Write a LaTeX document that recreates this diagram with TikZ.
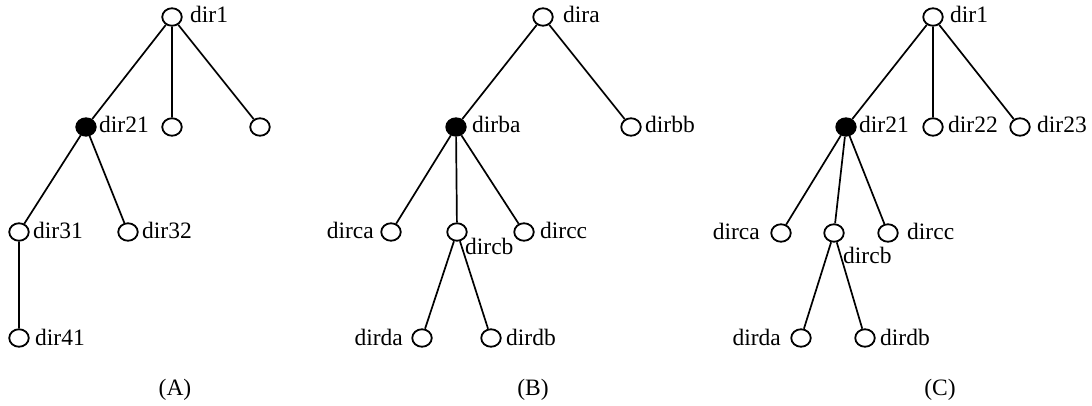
\documentclass[tikz,border=0pt]{standalone}
\usepackage{fontspec}
\setmainfont{Liberation Serif}
\usetikzlibrary{shapes.geometric}
\begin{document}
\begin{tikzpicture}[x=1pt, y=-1pt,
  dirnode/.style={draw=black, ellipse, line width=1.8pt, minimum width=19.5pt, minimum height=17.5pt, inner sep=0pt, fill=white},
  curnode/.style={dirnode, fill=black},
  link/.style={draw=black, line width=1.7pt},
  lbl/.style={inner sep=0pt, font=\fontsize{23.5}{27}\selectfont},
  lw/.style={lbl, anchor=base west},
  le/.style={lbl, anchor=base east},
  captext/.style={lbl, anchor=base}]
\useasboundingbox (0,0) rectangle (1092,406);

% ---- tree (A) ----
\node[dirnode] (a1)  at (172,17)  {};
\node[curnode] (a21) at (86,127)  {};
\node[dirnode] (a22) at (172,127) {};
\node[dirnode] (a23) at (260,127) {};
\node[dirnode] (a31) at (19,232)  {};
\node[dirnode] (a32) at (128,232) {};
\node[dirnode] (a41) at (19,338)  {};
\draw[link] (a1) -- (a21) (a1) -- (a22) (a1) -- (a23)
            (a21) -- (a31) (a21) -- (a32) (a31) -- (a41);
\node[lw] (la1)  at (190,23)  {dir1};
\node[lw] (la21) at (99,133)  {dir21};
\node[lw] (la31) at (33,239)  {dir31};
\node[lw] (la32) at (142,239) {dir32};
\node[lw] (la41) at (35,345)  {dir41};
\node[captext] (capA) at (175,395) {(A)};

% ---- tree (B) ----
\node[dirnode] (b1)  at (543,17)  {};
\node[curnode] (bba) at (456,127) {};
\node[dirnode] (bbb) at (631,127) {};
\node[dirnode] (bca) at (391,232) {};
\node[dirnode] (bcb) at (457,232) {};
\node[dirnode] (bcc) at (524,232) {};
\node[dirnode] (bda) at (422,338) {};
\node[dirnode] (bdb) at (491,338) {};
\draw[link] (b1) -- (bba) (b1) -- (bbb)
            (bba) -- (bca) (bba) -- (bcb) (bba) -- (bcc)
            (bcb) -- (bda) (bcb) -- (bdb);
\node[lw] (lb1)  at (563,23)  {dira};
\node[lw] (lbba) at (472,133) {dirba};
\node[lw] (lbbb) at (645,133) {dirbb};
\node[le] (lbca) at (374,239) {dirca};
\node[lw] (lbcb) at (465,254) {dircb};
\node[lw] (lbcc) at (540,239) {dircc};
\node[le] (lbda) at (403,345) {dirda};
\node[lw] (lbdb) at (506,345) {dirdb};
\node[captext] (capB) at (533,395) {(B)};

% ---- tree (C) ----
\node[dirnode] (c1)  at (933,17)  {};
\node[curnode] (c21) at (846,127) {};
\node[dirnode] (c22) at (933,127) {};
\node[dirnode] (c23) at (1020,127) {};
\node[dirnode] (cca) at (781,233) {};
\node[dirnode] (ccb) at (834,233) {};
\node[dirnode] (ccc) at (888,233) {};
\node[dirnode] (cda) at (801,338) {};
\node[dirnode] (cdb) at (865,338) {};
\draw[link] (c1) -- (c21) (c1) -- (c22) (c1) -- (c23)
            (c21) -- (cca) (c21) -- (ccb) (c21) -- (ccc)
            (ccb) -- (cda) (ccb) -- (cdb);
\node[lw] (lc1)  at (950,23)  {dir1};
\node[lw] (lc21) at (859,133) {dir21};
\node[lw] (lc22) at (948,133) {dir22};
\node[lw] (lc23) at (1037,133) {dir23};
\node[le] (lcca) at (760,240) {dirca};
\node[lw] (lccb) at (843,263) {dircb};
\node[lw] (lccc) at (907,240) {dircc};
\node[le] (lcda) at (781,345) {dirda};
\node[lw] (lcdb) at (880,345) {dirdb};
\node[captext] (capC) at (940,395) {(C)};
\end{tikzpicture}
\end{document}
